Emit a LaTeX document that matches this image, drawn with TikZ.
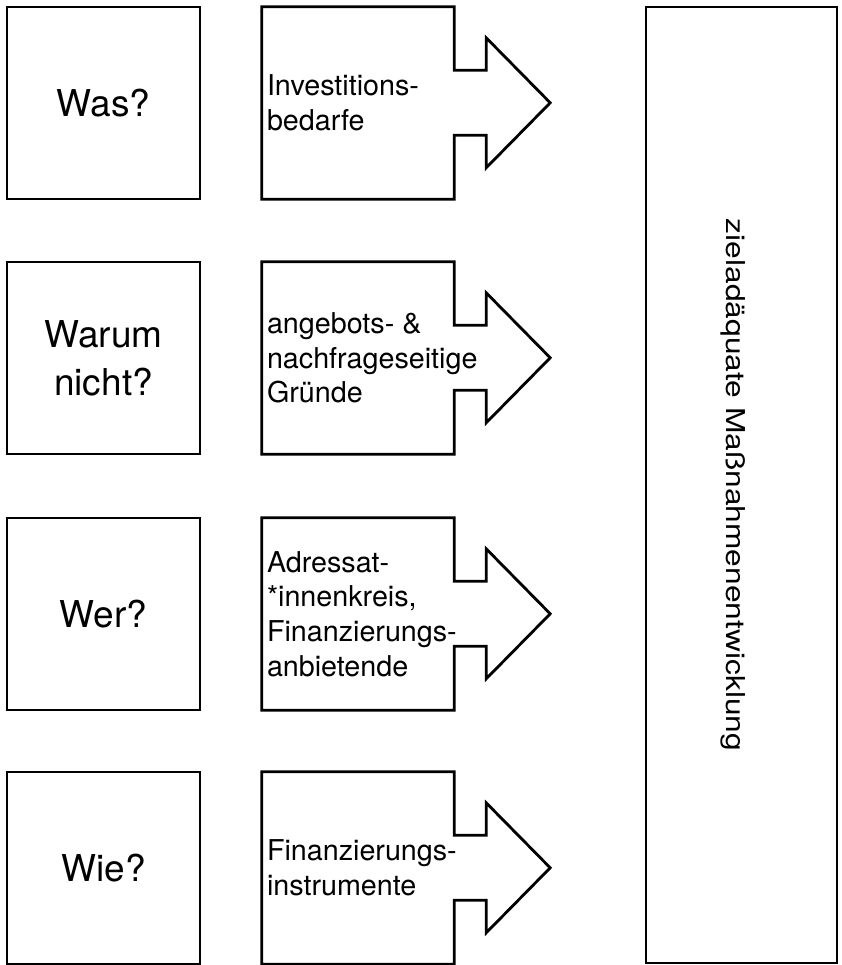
\documentclass[tikz,border=0pt]{standalone}
\usepackage{fontspec}
\setmainfont{TeX Gyre Heros}
\usetikzlibrary{positioning}

\begin{document}
\begin{tikzpicture}[x=1pt,y=-1pt,line join=miter,
  rahmen/.style={draw=black, line width=2.8pt},
  frage/.style={rahmen, minimum width=193pt, minimum height=192pt, inner sep=0pt, align=center, font=\fontsize{37}{48}\selectfont},
  feld/.style={minimum width=192pt, minimum height=192pt, inner sep=0pt},
  stichwort/.style={anchor=west, inner xsep=5pt, inner ysep=0pt, align=left, font=\fontsize{28.7}{34.7}\selectfont}]

\useasboundingbox (0,0) rectangle (841,965);

% Fragen links
\node[frage] (was)   at (103.5,103) {Was?};
\node[frage] (warum) at (103.5,358) {Warum\\nicht?};
\node[frage] (wer)   at (103.5,614) {Wer?};
\node[frage] (wie)   at (103.5,868) {Wie?};

% Pfeile in der Mitte
\node[feld] (bedarf)      at (358,103) {};
\node[feld] (gruende)     at (358,358) {};
\node[feld] (akteure)     at (358,614) {};
\node[feld] (instrumente) at (358,868) {};

\foreach \n in {bedarf,gruende,akteure,instrumente}
  \draw[rahmen] (\n.north west) -- (\n.north east) -- ++(0,63.5) -- ++(32,0)
    -- ++(0,-32.5) -- ++(64,65) -- ++(-64,65) -- ++(0,-32.5) -- ++(-32,0)
    -- (\n.south east) -- (\n.south west) -- cycle;

\node[stichwort] (tbedarf)      at (bedarf.west)      {Investitions-\\bedarfe};
\node[stichwort] (tgruende)     at (gruende.west)     {angebots- \&\\nachfrageseitige\\Gründe};
\node[stichwort] (takteure)     at (akteure.west)     {Adressat-\\*innenkreis,\\Finanzierungs-\\anbietende};
\node[stichwort] (tinstrumente) at (instrumente.west) {Finanzierungs-\\instrumente};

% Ergebnis rechts
\node[rahmen, minimum width=191pt, minimum height=956pt, inner sep=0pt] (ziel) at (741.5,485) {};
\node[rotate=-90, xscale=1.22, inner sep=0pt, font=\fontsize{26}{30}\selectfont] (zieltext) at (733,485) {zieladäquate Maßnahmenentwicklung};

\end{tikzpicture}
\end{document}
